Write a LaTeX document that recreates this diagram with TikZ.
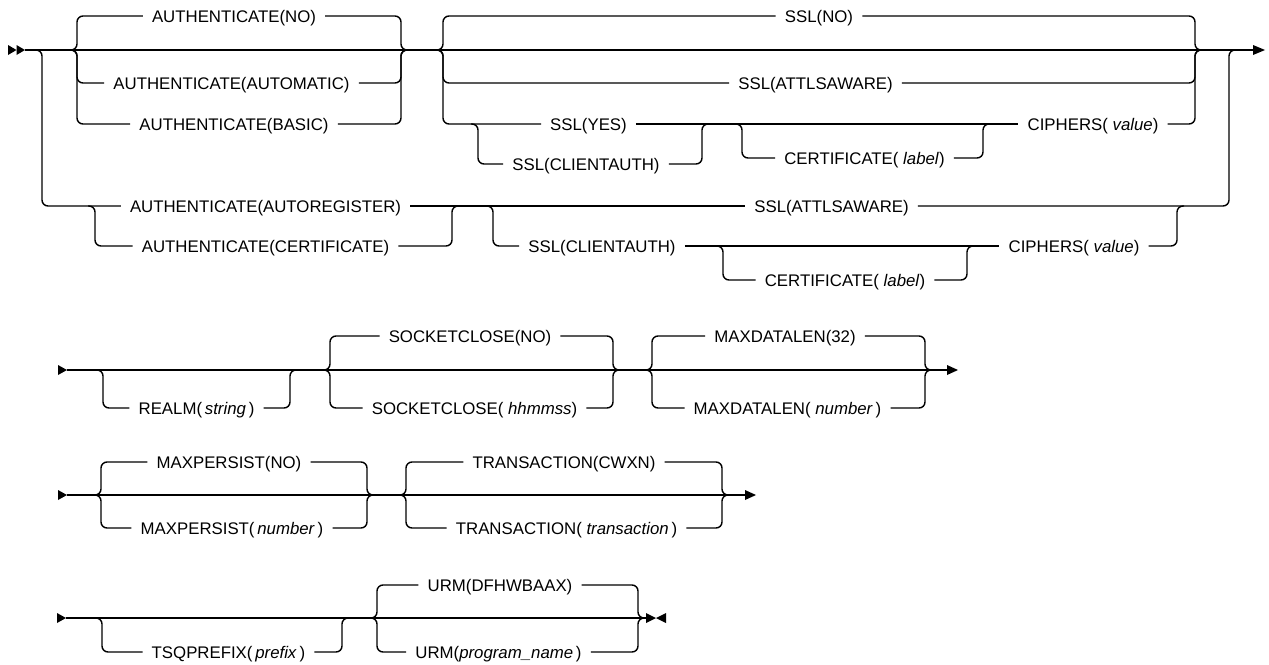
\documentclass[tikz,border=0pt]{standalone}
\usepackage{fontspec}
\setmainfont{Liberation Sans}
\newcommand\rrL[2]{\draw[rr] ([xshift=-7pt]#1) -- (#1) |- (#2.west);}
\newcommand\rrR[2]{\draw[rr] (#2.east) -| (#1) -- ([xshift=7pt]#1);}
\begin{document}
\begin{tikzpicture}[x=1pt,y=-1pt,
  rr/.style={line width=1.4pt, rounded corners=6pt},
  lbl/.style={inner xsep=9pt, inner ysep=0pt, text height=12pt, text depth=0pt,
    font=\fontsize{16.8}{18}\selectfont},
  tip/.style={fill=black}]
\useasboundingbox (0,0) rectangle (1269,664);

% ---------------- Row 1 ----------------
\node[lbl] (authno)    at (234,16)    {AUTHENTICATE(NO)};
\node[lbl] (authauto)  at (231.5,83)  {AUTHENTICATE(AUTOMATIC)};
\node[lbl] (authbasic) at (234,124)   {AUTHENTICATE(BASIC)};
\node[lbl] (authreg)   at (265.5,206) {AUTHENTICATE(AUTOREGISTER)};
\node[lbl] (authcert)  at (265.5,246) {AUTHENTICATE(CERTIFICATE)};
\node[lbl] (sslno)     at (819,16)    {SSL(NO)};
\node[lbl] (sslatt)    at (815.5,83)  {SSL(ATTLSAWARE)};
\node[lbl] (sslyes)    at (588.5,124) {SSL(YES)};
\node[lbl] (sslca)     at (586,164)   {SSL(CLIENTAUTH)};
\node[lbl] (certA)     at (864.5,158) {CERTIFICATE( \textit{label})};
\node[lbl] (ciphA)     at (1093,124)  {CIPHERS( \textit{value})};
\node[lbl] (sslattB)   at (831.5,206) {SSL(ATTLSAWARE)};
\node[lbl] (sslcaB)    at (602,246)   {SSL(CLIENTAUTH)};
\node[lbl] (certB)     at (845,280)   {CERTIFICATE( \textit{label})};
\node[lbl] (ciphB)     at (1074,246)  {CIPHERS( \textit{value})};

\coordinate (m1s) at (25,50);
\coordinate (m1e) at (1253,50);
\coordinate (jb)  at (42,50);
\coordinate (ja1) at (77,50);
\coordinate (ja2) at (401,50);
\coordinate (js1) at (443,50);
\coordinate (js2) at (1195,50);
\coordinate (jr)  at (1229,50);
\coordinate (jc1) at (95,206);
\coordinate (jc2) at (452,206);
\coordinate (jc3) at (493,206);
\coordinate (jc4) at (1177,206);
\coordinate (jd1) at (478,124);
\coordinate (jd2) at (702,124);
\coordinate (jd3) at (742,124);
\coordinate (jd4) at (983,124);
\coordinate (je1) at (723,246);
\coordinate (je2) at (967,246);

\fill[tip] (8,45) -- (16.5,50) -- (8,55) -- cycle;
\fill[tip] (16.5,45) -- (25,50) -- (16.5,55) -- cycle;
\fill[tip] (1253,45) -- (1265,50) -- (1253,55) -- cycle;
\draw[rr] (m1s) -- (m1e);

\rrL{jb}{authreg}
\rrL{ja1}{authno} \rrL{ja1}{authauto} \rrL{ja1}{authbasic}
\rrR{ja2}{authno} \rrR{ja2}{authauto} \rrR{ja2}{authbasic}
\rrL{js1}{sslno} \rrL{js1}{sslatt} \rrL{js1}{sslyes}
\rrR{js2}{sslno} \rrR{js2}{sslatt} \rrR{js2}{ciphA}
\draw[rr] (sslyes.east) -- (ciphA.west);
\rrL{jd1}{sslca} \rrR{jd2}{sslca}
\rrL{jd3}{certA} \rrR{jd4}{certA}

\draw[rr] (authreg.east) -- (sslattB.west);
\rrL{jc1}{authcert} \rrR{jc2}{authcert}
\rrL{jc3}{sslcaB} \rrR{jc4}{ciphB}
\draw[rr] (sslcaB.east) -- (ciphB.west);
\rrL{je1}{certB} \rrR{je2}{certB}
\rrR{jr}{sslattB}

% ---------------- Row 2 ----------------
\node[lbl] (realm)  at (196.5,408) {REALM(\,\textit{string}\,)};
\node[lbl] (sockno) at (470,336)   {SOCKETCLOSE(NO)};
\node[lbl] (sockhh) at (474.5,408) {SOCKETCLOSE( \textit{hhmmss})};
\node[lbl] (md32)   at (785,336)   {MAXDATALEN(32)};
\node[lbl] (mdnum)  at (787.5,408) {MAXDATALEN( \textit{number}\,)};

\coordinate (m2s) at (67,370);
\coordinate (m2e) at (947,370);
\coordinate (jf1) at (103,370);
\coordinate (jf2) at (290,370);
\coordinate (jg1) at (330,370);
\coordinate (jg2) at (613,370);
\coordinate (jh1) at (652,370);
\coordinate (jh2) at (925,370);

\fill[tip] (58,365) -- (67,370) -- (58,375) -- cycle;
\fill[tip] (947,365) -- (958,370) -- (947,375) -- cycle;
\draw[rr] (m2s) -- (m2e);
\rrL{jf1}{realm} \rrR{jf2}{realm}
\rrL{jg1}{sockno} \rrL{jg1}{sockhh}
\rrR{jg2}{sockno} \rrR{jg2}{sockhh}
\rrL{jh1}{md32} \rrL{jh1}{mdnum}
\rrR{jh2}{md32} \rrR{jh2}{mdnum}

% ---------------- Row 3 ----------------
\node[lbl] (mpno)  at (229,462)   {MAXPERSIST(NO)};
\node[lbl] (mpnum) at (232,528)   {MAXPERSIST(\,\textit{number}\,)};
\node[lbl] (trno)  at (564,462)   {TRANSACTION(CWXN)};
\node[lbl] (trtr)  at (566.5,528) {TRANSACTION( \textit{transaction}\,)};

\coordinate (m3s) at (67,495);
\coordinate (m3e) at (745,495);
\coordinate (ji1) at (101,495);
\coordinate (ji2) at (367,495);
\coordinate (jk1) at (406,495);
\coordinate (jk2) at (722,495);

\fill[tip] (58,490) -- (67,495) -- (58,500) -- cycle;
\fill[tip] (745,490) -- (756,495) -- (745,500) -- cycle;
\draw[rr] (m3s) -- (m3e);
\rrL{ji1}{mpno} \rrL{ji1}{mpnum}
\rrR{ji2}{mpno} \rrR{ji2}{mpnum}
\rrL{jk1}{trno} \rrL{jk1}{trtr}
\rrR{jk2}{trno} \rrR{jk2}{trtr}

% ---------------- Row 4 ----------------
\node[lbl] (tsq)  at (228.5,652) {TSQPREFIX(\,\textit{prefix}\,)};
\node[lbl] (urmd) at (500,585)   {URM(DFHWBAAX)};
\node[lbl] (urmp) at (498.5,652) {URM(\textit{program\_name}\,)};

\coordinate (m4s) at (66,618);
\coordinate (m4e) at (646,618);
\coordinate (jl1) at (102,618);
\coordinate (jl2) at (342,618);
\coordinate (jm1) at (377,618);
\coordinate (jm2) at (638,618);

\fill[tip] (57,613) -- (66,618) -- (57,623) -- cycle;
\fill[tip] (646,613) -- (656,618) -- (646,623) -- cycle;
\fill[tip] (666,613) -- (656,618) -- (666,623) -- cycle;
\draw[rr] (m4s) -- (m4e);
\rrL{jl1}{tsq} \rrR{jl2}{tsq}
\rrL{jm1}{urmd} \rrL{jm1}{urmp}
\rrR{jm2}{urmd} \rrR{jm2}{urmp}
\end{tikzpicture}
\end{document}
